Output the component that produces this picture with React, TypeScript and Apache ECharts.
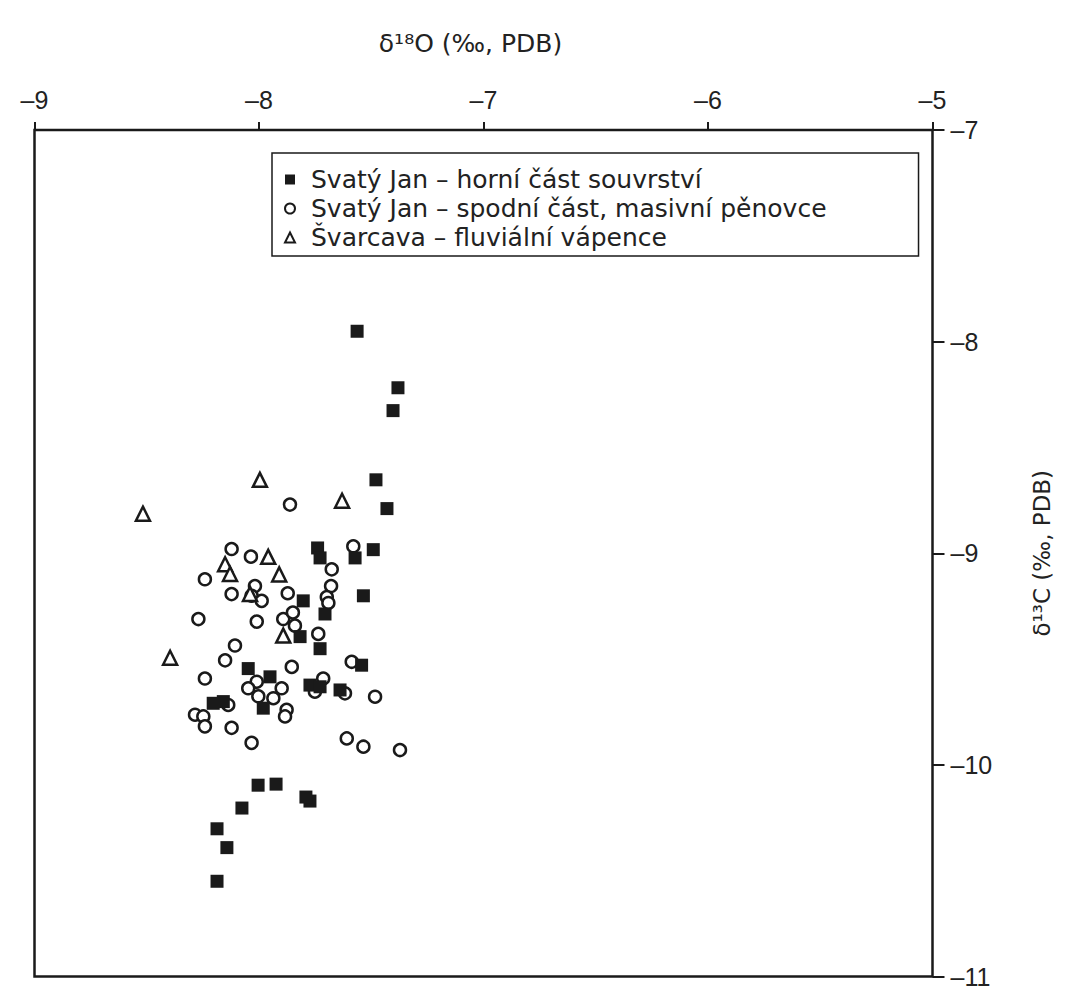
import React, { useEffect, useRef } from "react";
import * as echarts from "echarts";

// δ18O (x) and δ13C (y) values, ‰ PDB
const horniCast: [number, number][] = [
  [-7.563, -7.951], [-7.381, -8.218], [-7.403, -8.326], [-7.479, -8.653],
  [-7.43, -8.789], [-7.739, -8.975], [-7.728, -9.022], [-7.572, -9.022],
  [-7.491, -8.983], [-7.535, -9.201], [-7.803, -9.225], [-7.706, -9.287],
  [-7.817, -9.394], [-7.728, -9.451], [-7.543, -9.529], [-8.048, -9.545],
  [-7.951, -9.584], [-7.981, -9.732], [-7.773, -9.623], [-7.728, -9.631],
  [-7.639, -9.646], [-8.204, -9.709], [-8.159, -9.701], [-8.004, -10.096],
  [-7.924, -10.091], [-7.773, -10.171], [-7.791, -10.152], [-8.076, -10.204],
  [-8.187, -10.302], [-8.143, -10.391], [-8.187, -10.55],
];

const spodniCast: [number, number][] = [
  [-7.862, -8.77], [-8.122, -8.98], [-8.036, -9.016], [-8.241, -9.123],
  [-8.122, -9.193], [-8.018, -9.155], [-8.033, -9.201], [-7.988, -9.225],
  [-7.872, -9.189], [-8.27, -9.311], [-8.01, -9.323], [-7.892, -9.311],
  [-7.84, -9.342], [-7.849, -9.28], [-7.58, -8.967], [-7.676, -9.076],
  [-7.679, -9.155], [-7.698, -9.207], [-7.691, -9.235], [-7.736, -9.381],
  [-8.107, -9.436], [-8.151, -9.506], [-8.241, -9.592], [-8.01, -9.607],
  [-8.048, -9.638], [-7.854, -9.537], [-7.899, -9.638], [-8.003, -9.676],
  [-7.936, -9.685], [-7.877, -9.74], [-7.884, -9.771], [-8.137, -9.717],
  [-8.285, -9.763], [-8.248, -9.771], [-8.241, -9.818], [-8.122, -9.825],
  [-8.033, -9.896], [-7.587, -9.513], [-7.714, -9.592], [-7.751, -9.654],
  [-7.617, -9.662], [-7.483, -9.678], [-7.609, -9.875], [-7.535, -9.914],
  [-7.372, -9.93],
];

const svarcava: [number, number][] = [
  [-8.517, -8.813], [-7.996, -8.653], [-7.63, -8.752], [-8.151, -9.052],
  [-8.129, -9.098], [-7.959, -9.017], [-7.91, -9.1], [-8.04, -9.192],
  [-7.892, -9.389], [-8.396, -9.494],
];

const seriesNames = [
  "Svatý Jan – horní část souvrství",
  "Svatý Jan – spodní část, masivní pěnovce",
  "Švarcava – fluviální vápence",
];

const xRange = { min: -9, max: -5, step: 1 };
const yRange = { min: -11, max: -7, step: 1 };

const FONT = "Liberation Sans, Arial, sans-serif";
const WIDE = "DejaVu Sans, Liberation Sans, sans-serif";
const INK = "#1a1a1a";

const fmt = (v: number) => String(v).replace("-", "–");

export default function App() {
  const ref = useRef<HTMLDivElement>(null);
  useEffect(() => {
    document.body.style.margin = "0";
    const chart = echarts.init(ref.current!, null, { renderer: "svg" });
    chart.setOption({
      animation: false,
      backgroundColor: "#ffffff",
      textStyle: { fontFamily: FONT, color: INK },
      grid: {
        left: 34.5,
        top: 130,
        width: 898,
        height: 854,
        show: true,
        borderColor: INK,
        borderWidth: 2.5,
        backgroundColor: "transparent",
      },
      legend: {
        orient: "vertical",
        left: 272,
        top: 153,
        data: seriesNames,
        backgroundColor: "#fff",
        borderColor: INK,
        borderWidth: 1.5,
        borderRadius: 0,
        padding: [12, 92, 4, 12],
        itemGap: 0,
        itemWidth: 10,
        itemHeight: 10,
        textStyle: {
          fontSize: 25,
          color: "#222",
          fontFamily: WIDE,
          lineHeight: 29,
          padding: [0, 0, 0, 11],
        },
      },
      xAxis: {
        type: "value",
        position: "top",
        min: xRange.min,
        max: xRange.max,
        interval: xRange.step,
        name: "δ¹⁸O (‰, PDB)",
        nameLocation: "middle",
        nameGap: 74,
        nameTextStyle: { fontSize: 25, color: "#222", fontFamily: WIDE, padding: [0, 26, 0, 0] },
        axisLine: { show: false },
        axisTick: { show: true, inside: false, length: 8, lineStyle: { color: INK, width: 2 } },
        axisLabel: { fontSize: 25, color: "#222", margin: 18, formatter: fmt },
        splitLine: { show: false },
      },
      yAxis: {
        type: "value",
        position: "right",
        min: yRange.min,
        max: yRange.max,
        interval: yRange.step,
        name: "δ¹³C (‰, PDB)",
        nameLocation: "middle",
        nameGap: 98,
        nameTextStyle: { fontSize: 23, color: "#222", fontFamily: WIDE },
        axisLine: { show: false },
        axisTick: { show: true, inside: false, length: 12, lineStyle: { color: INK, width: 2 } },
        axisLabel: { fontSize: 25, color: "#222", margin: 18, formatter: fmt },
        splitLine: { show: false },
      },
      series: [
        {
          name: seriesNames[1],
          type: "scatter",
          data: spodniCast,
          symbol: "circle",
          symbolSize: 12,
          itemStyle: { color: "#fff", borderColor: INK, borderWidth: 2.5, opacity: 1 },
          z: 2,
        },
        {
          name: seriesNames[0],
          type: "scatter",
          data: horniCast,
          symbol: "rect",
          symbolSize: 13,
          itemStyle: { color: INK, opacity: 1 },
          z: 3,
        },
        {
          name: seriesNames[2],
          type: "scatter",
          data: svarcava,
          symbol: "triangle",
          symbolSize: 14,
          itemStyle: { color: "#fff", borderColor: INK, borderWidth: 2.5, opacity: 1 },
          z: 4,
        },
      ],
    });
    return () => chart.dispose();
  }, []);
  return <div ref={ref} style={{ width: 1071, height: 989 }} />;
}
